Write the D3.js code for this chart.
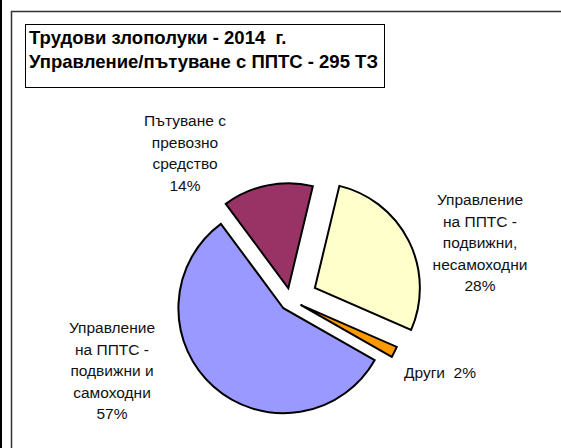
<!DOCTYPE html>
<html>
<head>
<meta charset="utf-8">
<script src="https://cdn.jsdelivr.net/npm/d3@7"></script>
<style>
  body { margin: 0; background: #fff; }
  text { font-family: "Liberation Sans", Arial, sans-serif; }
</style>
</head>
<body>
<div id="container"></div>
<script>
// chart data
const categories = [
    "Управление на ППТС - подвижни, несамоходни",
    "Други",
    "Управление на ППТС - подвижни и самоходни",
    "Пътуване с превозно средство"
];
const labelLines = [
    ["Управление", "на ППТС -", "подвижни,", "несамоходни"],
    ["Други "],
    ["Управление", "на ППТС -", "подвижни и", "самоходни"],
    ["Пътуване с", "превозно", "средство"]
];
const values = [82, 5, 167, 41];
const titleLines = ["Трудови злополуки - 2014  г.", "Управление/пътуване с ППТС - 295 ТЗ"];

// styles / layout
const colors = ["#FFFFCC", "#FF9900", "#9999FF", "#993366"];
const explode = [27, 11, 11, 12];
const labelPos = [
    {x: 480, y: 205, anchor: "middle"},
    {x: 404, y: 378, anchor: "start"},
    {x: 112, y: 333, anchor: "middle"},
    {x: 185, y: 126, anchor: "middle"}
];

const w = 561, h = 448;
const cx = 290.7, cy = 300, r = 105;
const lineH = 21.5;

const svg = d3.select("#container")
              .append("svg")
              .attr("width", w)
              .attr("height", h);

svg.append("rect").attr("width", w).attr("height", h).attr("fill", "#fff");

// outer borders
svg.append("line")
   .attr("x1", 1).attr("x2", 1).attr("y1", 0).attr("y2", h)
   .attr("stroke", "#000").attr("stroke-width", 2);
svg.append("path")
   .attr("d", "M11.5," + h + "V11.5H" + w)
   .attr("fill", "none").attr("stroke", "#333").attr("stroke-width", 1.5);

// title box
svg.append("rect")
   .attr("x", 25.5).attr("y", 24.5).attr("width", 359).attr("height", 63)
   .attr("fill", "#fff").attr("stroke", "#000").attr("stroke-width", 1);

svg.selectAll(".title")
   .data(titleLines)
   .enter()
   .append("text")
   .attr("class", "title")
   .attr("x", 29)
   .attr("y", (d, i) => 44 + i * 24)
   .style("font-size", "18.5px")
   .style("font-weight", "bold")
   .style("white-space", "pre")
   .text(d => d);

// pie
const total = d3.sum(values);
const pie = d3.pie()
              .sort(null)
              .startAngle(13.5 * Math.PI / 180)
              .endAngle(13.5 * Math.PI / 180 + 2 * Math.PI);
const arc = d3.arc().innerRadius(0).outerRadius(r);
const arcs = pie(values);

svg.append("g")
   .attr("transform", "translate(" + cx + "," + cy + ")")
   .selectAll("path")
   .data(arcs)
   .enter()
   .append("path")
   .attr("transform", (d, i) => {
       const mid = (d.startAngle + d.endAngle) / 2;
       return "translate(" + (Math.sin(mid) * explode[i]) + "," + (-Math.cos(mid) * explode[i]) + ")";
   })
   .attr("d", arc)
   .attr("fill", (d, i) => colors[i])
   .attr("stroke", "#000")
   .attr("stroke-width", 2)
   .attr("stroke-linejoin", "miter");

// labels
const pct = d3.format(".0%");
const labels = svg.selectAll(".label")
                  .data(arcs)
                  .enter()
                  .append("text")
                  .attr("class", "label")
                  .attr("text-anchor", (d, i) => labelPos[i].anchor)
                  .style("font-size", "15.5px")
                  .style("white-space", "pre")
                  .attr("fill", "#111");

labels.each(function(d, i) {
    const t = d3.select(this);
    const lines = labelLines[i];
    if (lines.length === 1) {
        t.append("tspan")
         .attr("x", labelPos[i].x).attr("y", labelPos[i].y)
         .text(lines[0] + " " + pct(d.data / total));
    } else {
        lines.concat([pct(d.data / total)]).forEach((s, k) => {
            t.append("tspan")
             .attr("x", labelPos[i].x)
             .attr("y", labelPos[i].y + k * lineH)
             .text(s);
        });
    }
});
</script>
</body>
</html>
